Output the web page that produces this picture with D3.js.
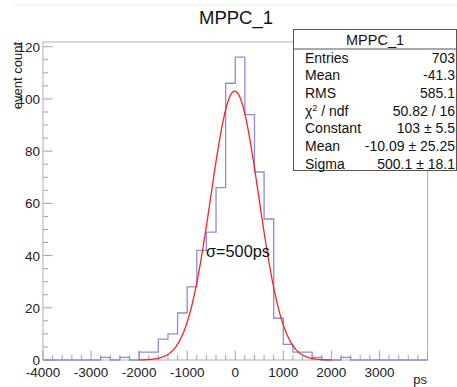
<!DOCTYPE html>
<html><head><meta charset="utf-8">
<script src="https://cdn.jsdelivr.net/npm/d3@7"></script>
<style>body{margin:0;background:#fff}svg{display:block}text{font-family:"Liberation Sans",Arial,sans-serif}</style>
</head><body><svg id="c" width="457" height="387"></svg>
<script>
// ---- data ----
const binStart = -4000, binWidth = 200;
const counts = [0,0,0,0,0,0,1,0,1,0, 3,3,8,10,18,28,42,49,66,106, 116,94,72,54,16,6,3,3,1,0, 0,1,0,0,0,0,0,0,0,0];
const fitParams = {constant:103, mean:-10.09, sigma:500.1};
const fitRange = [-2000, 2000];
const xTicks = [-4000,-3000,-2000,-1000,0,1000,2000,3000];
const yTicks = [0,20,40,60,80,100,120];
const title = "MPPC_1";
const statsLabels = ["Entries","Mean","RMS","χ2 / ndf","Constant","Mean","Sigma"];
const statsValues = ["703","-41.3","585.1","50.82 / 16","103 ± 5.5","-10.09 ± 25.25","500.1 ± 18.1"];

const svg = d3.select("#c");
const L=43, R=427.5, T=42, B=360;
const x = d3.scaleLinear().domain([-4000,4000]).range([L,R]);
const y = d3.scaleLinear().domain([0,121.8]).range([B,T]);
const grey="#a0a0a0";

// faint top line
svg.append("line").attr("x1",13).attr("x2",457).attr("y1",5).attr("y2",5).attr("stroke","#eee");

// frame
svg.append("rect").attr("x",L).attr("y",T).attr("width",R-L).attr("height",B-T).attr("fill","none").attr("stroke","#b0b0b0").attr("stroke-width",1);

// x ticks
const xMinor = d3.range(-4000,4001,200);
svg.append("g").selectAll("line").data(xMinor).join("line")
  .attr("x1",d=>x(d)).attr("x2",d=>x(d)).attr("y1",B)
  .attr("y2",d=>B-(d%1000===0?9.5:5)).attr("stroke",grey);
svg.append("g").selectAll("text").data(xTicks).join("text")
  .attr("x",d=>x(d)).attr("y",377).attr("text-anchor","middle").attr("font-size",13.5).attr("fill","#222").text(d=>d);
// y ticks
const yMinor = d3.range(0,121,5);
svg.append("g").selectAll("line").data(yMinor).join("line")
  .attr("y1",d=>y(d)).attr("y2",d=>y(d)).attr("x1",L)
  .attr("x2",d=>L+(d%20===0?9.5:5)).attr("stroke",grey);
svg.append("g").selectAll("text").data(yTicks).join("text")
  .attr("x",40).attr("y",d=>y(d)+5).attr("text-anchor","end").attr("font-size",13.5).attr("fill","#222").text(d=>d);

// axis titles
svg.append("text").attr("x",427).attr("y",384).attr("text-anchor","end").attr("font-size",13).attr("fill","#222").text("ps");
svg.append("text").attr("transform","translate(22,42) rotate(-90)").attr("text-anchor","end").attr("font-size",13).attr("fill","#222").text("event count");

// histogram
const pts=[];
counts.forEach((c,i)=>{const x0=binStart+i*binWidth; pts.push([x0,c]); pts.push([x0+binWidth,c]);});
svg.append("path").attr("d",d3.line().x(d=>x(d[0])).y(d=>y(d[1]))(pts))
  .attr("fill","none").attr("stroke","#8c8cdc").attr("stroke-width",1.3);

// fit
const fx = d3.range(fitRange[0], fitRange[1]+1, 10);
const g = v => fitParams.constant*Math.exp(-0.5*Math.pow((v-fitParams.mean)/fitParams.sigma,2));
svg.append("path").attr("d",d3.line().x(d=>x(d)).y(d=>y(g(d)))(fx))
  .attr("fill","none").attr("stroke","#ff2020").attr("stroke-width",1.3);

// annotation
svg.append("text").attr("x",206).attr("y",257).attr("font-family","'Open Sans',sans-serif").attr("font-size",16.3).attr("fill","#111").text("σ=500ps");

// title
svg.append("text").attr("x",236).attr("y",24).attr("text-anchor","middle").attr("font-size",18.5).attr("fill","#111").text(title);

// stats box
const bx=293.5, by=29.5, bw=163, bh=141;
svg.append("rect").attr("x",bx).attr("y",by).attr("width",bw).attr("height",bh).attr("fill","#fff").attr("stroke","#555");
svg.append("line").attr("x1",bx).attr("x2",bx+bw).attr("y1",49).attr("y2",49).attr("stroke","#555");
svg.append("text").attr("x",bx+bw/2).attr("y",44.5).attr("text-anchor","middle").attr("font-size",14.5).attr("fill","#111").text(title);
const sg = svg.append("g").selectAll("g").data(statsLabels).join("g");
sg.append("text").attr("x",305).attr("y",(d,i)=>62.5+i*17.7).attr("font-size",14).attr("fill","#111")
  .each(function(d){const t=d3.select(this); if(d.startsWith("χ2")){t.text("χ"); t.append("tspan").attr("dy",-5).attr("font-size",9).text("2"); t.append("tspan").attr("dy",5).text(" / ndf");} else t.text(d);});
sg.append("text").attr("x",455).attr("y",(d,i)=>62.5+i*17.7).attr("text-anchor","end").attr("font-size",14).attr("fill","#111").text((d,i)=>statsValues[i]);
</script></body></html>
